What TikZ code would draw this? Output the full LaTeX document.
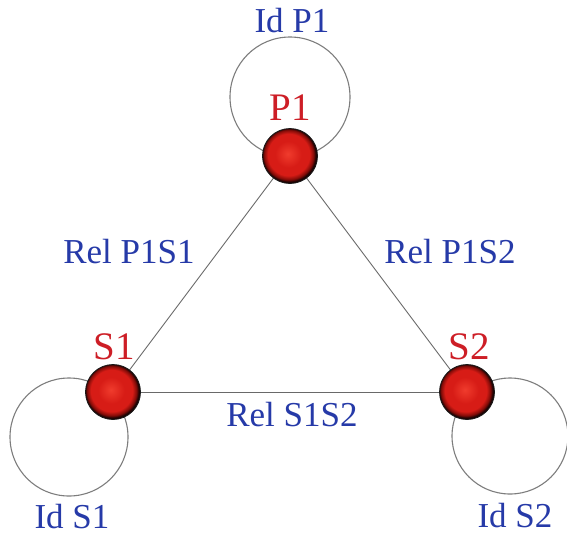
\documentclass[tikz,border=0pt]{standalone}
\usepackage{fontspec}
\setmainfont{Liberation Serif}
\usetikzlibrary{calc}

\definecolor{labelblue}{RGB}{38,58,168}
\definecolor{namered}{RGB}{205,30,38}
\definecolor{edgegray}{RGB}{105,105,105}
\definecolor{loopgray}{RGB}{125,125,125}
\definecolor{ballhi}{RGB}{240,60,45}
\definecolor{ballmid}{RGB}{215,28,22}
\definecolor{ballrim}{RGB}{130,12,8}
\definecolor{balldark}{RGB}{25,3,3}

% red sphere: bright core, darkening to a near-black rim
\pgfdeclareradialshading{redsphere}{\pgfpoint{-2bp}{2bp}}{%
  color(0bp)=(ballhi); color(12bp)=(ballmid); color(19bp)=(ballmid);
  color(22.5bp)=(ballrim); color(24.5bp)=(balldark); color(50bp)=(balldark)}

\tikzset{
  sphere/.style={circle, minimum size=55pt, inner sep=0pt,
    shading=redsphere, draw=black!90, line width=0.8pt},
  edge/.style={draw=edgegray, line width=0.9pt},
  selfloop/.style={draw=loopgray, line width=1.1pt},
  relname/.style={text=labelblue, font=\fontsize{35}{38}\selectfont, inner sep=0pt},
  vname/.style={text=namered, font=\fontsize{39}{42}\selectfont, inner sep=0pt},
}

\begin{document}
\begin{tikzpicture}[x=1pt, y=-1pt]
  \useasboundingbox (0,0) rectangle (567,536);

  % sphere positions
  \coordinate (cP1) at (290,156);
  \coordinate (cS1) at (113,392);
  \coordinate (cS2) at (467,392);

  % identity loops, drawn beneath the spheres
  \coordinate (lP1) at (290,97);
  \coordinate (lS1) at (69,437);
  \coordinate (lS2) at (510,436);
  \draw[selfloop] (lP1) circle (60);
  \draw[selfloop] (lS1) circle (59);
  \draw[selfloop] (lS2) circle (58);

  % relation edges
  \draw[edge] (cP1) -- (cS1);
  \draw[edge] (cP1) -- (cS2);
  \draw[edge] (cS1) -- (cS2);

  % spheres
  \node[sphere] (P1) at (cP1) {};
  \node[sphere] (S1) at (cS1) {};
  \node[sphere] (S2) at (cS2) {};

  % vertex names
  \node[vname] (nP1) at (290,108) {P1};
  \node[vname] (nS1) at (114,347) {S1};
  \node[vname] (nS2) at (469,347) {S2};

  % relation labels
  \node[relname] (idP1) at (292,21) {Id P1};
  \node[relname] (idS1) at (72,517) {Id S1};
  \node[relname] (idS2) at (515,516) {Id S2};
  \node[relname] (rP1S1) at (129,252) {Rel P1S1};
  \node[relname] (rP1S2) at (450,252) {Rel P1S2};
  \node[relname] (rS1S2) at (292,415) {Rel S1S2};
\end{tikzpicture}
\end{document}
